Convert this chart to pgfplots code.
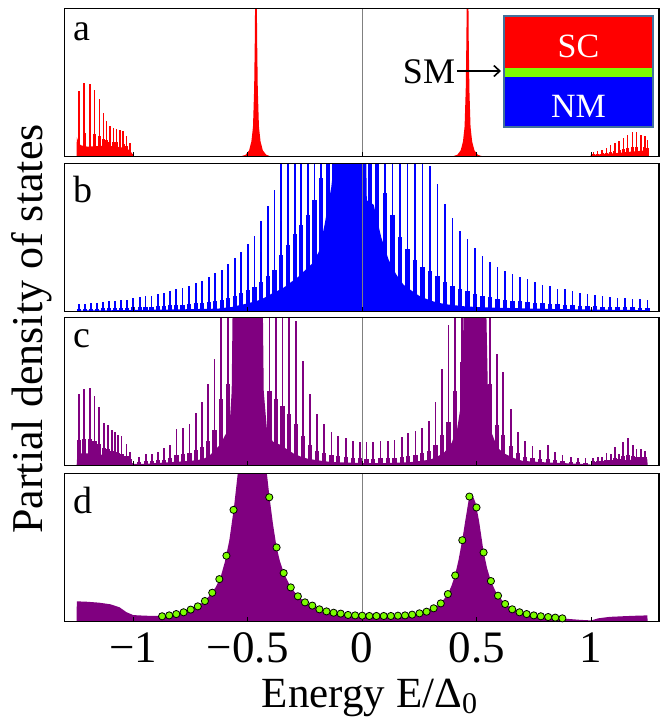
\documentclass[border=0pt]{standalone}
\usepackage{pgfplots}
\usepackage{pgfplotstable}
\pgfplotsset{compat=1.18}
\usepackage{fontspec}
\setmainfont{Liberation Serif}
\usetikzlibrary{arrows.meta}

\definecolor{dospurple}{RGB}{128,0,128}
\definecolor{smgreen}{RGB}{124,252,0}
\definecolor{boxedge}{RGB}{65,113,156}

% spikes: position, peak height, height of the broad foot
\pgfplotstableread{
x p s
-1.237 0.438 0.17
-1.214 0.494 0.16
-1.189 0.490 0.16
-1.169 0.449 0.15
-1.148 0.387 0.14
-1.129 0.292 0.12
-1.116 0.236 0.11
-1.102 0.202 0.10
-1.087 0.191 0.097
-1.072 0.184 0.094
-1.058 0.180 0.089
-1.044 0.169 0.082
-1.029 0.135 0.069
-1.014 0.090 0.043
1.009 0.027 0.014
1.028 0.034 0.017
1.048 0.045 0.022
1.067 0.056 0.025
1.085 0.074 0.030
1.103 0.090 0.035
1.122 0.101 0.040
1.140 0.124 0.048
1.159 0.146 0.055
1.181 0.162 0.061
1.198 0.164 0.063
1.217 0.146 0.061
1.234 0.135 0.060
1.245 0.112 0.056
}\spikesA

\pgfplotstableread{
x p s
-1.237 0.050 0.015
-1.211 0.052 0.016
-1.183 0.057 0.017
-1.157 0.059 0.018
-1.131 0.063 0.020
-1.105 0.068 0.021
-1.079 0.072 0.023
-1.052 0.075 0.024
-1.026 0.079 0.025
-1.000 0.088 0.026
-0.972 0.095 0.028
-0.946 0.102 0.030
-0.920 0.106 0.032
-0.892 0.115 0.034
-0.866 0.127 0.037
-0.840 0.138 0.040
-0.812 0.149 0.043
-0.785 0.158 0.045
-0.756 0.174 0.050
-0.726 0.188 0.053
-0.699 0.205 0.058
-0.670 0.235 0.065
-0.643 0.256 0.070
-0.614 0.278 0.078
-0.585 0.319 0.090
-0.556 0.357 0.105
-0.528 0.403 0.123
-0.499 0.452 0.142
-0.470 0.509 0.164
-0.441 0.611 0.198
-0.412 0.713 0.238
-0.383 0.821 0.280
-0.354 1.5 0.38
-0.324 1.5 0.45
-0.295 1.5 0.52
-0.266 1.5 0.58
-0.237 1.5 0.65
-0.208 1.5 0.75
-0.179 1.5 0.90
-0.150 1.5 1.2
-0.121 1.5 1.5
0.034 1.5 1.5
0.066 1.5 1.0
0.099 1.5 0.80
0.132 1.5 0.65
0.165 1.5 0.50
0.198 1.5 0.42
0.231 1.5 0.35
0.263 1.5 0.30
0.296 0.982 0.275
0.329 0.860 0.236
0.362 0.726 0.199
0.394 0.633 0.172
0.427 0.541 0.148
0.460 0.491 0.134
0.492 0.430 0.118
0.525 0.373 0.104
0.558 0.333 0.094
0.591 0.301 0.086
0.623 0.271 0.078
0.656 0.249 0.072
0.689 0.233 0.068
0.722 0.219 0.064
0.755 0.197 0.057
0.787 0.181 0.053
0.820 0.172 0.050
0.853 0.154 0.046
0.886 0.149 0.044
0.918 0.136 0.041
0.951 0.124 0.037
0.984 0.120 0.036
1.017 0.113 0.034
1.049 0.104 0.031
1.082 0.100 0.031
1.115 0.093 0.029
1.148 0.088 0.027
1.180 0.084 0.026
1.213 0.081 0.025
1.246 0.075 0.023
}\spikesB

\pgfplotstableread{
x p s
-1.237 0.482 0.168
-1.214 0.514 0.175
-1.189 0.520 0.176
-1.169 0.468 0.163
-1.148 0.392 0.142
-1.129 0.284 0.115
-1.109 0.273 0.109
-1.094 0.239 0.097
-1.080 0.227 0.092
-1.065 0.205 0.084
-1.051 0.198 0.079
-1.029 0.144 0.061
-1.014 0.092 0.042
-0.975 0.059 0.021
-0.945 0.077 0.026
-0.918 0.077 0.027
-0.892 0.092 0.033
-0.866 0.115 0.039
-0.840 0.137 0.047
-0.811 0.243 0.072
-0.783 0.250 0.076
-0.754 0.277 0.084
-0.726 0.356 0.106
-0.699 0.430 0.126
-0.672 0.550 0.166
-0.645 0.718 0.236
-0.616 1.5 0.45
-0.586 1.5 0.55
-0.557 1.5 1.5
-0.405 1.5 0.50
-0.376 1.5 0.45
-0.348 1.5 0.40
-0.320 1.5 0.35
-0.290 0.975 0.28
-0.260 0.707 0.20
-0.228 0.480 0.14
-0.196 0.349 0.10
-0.167 0.277 0.084
-0.134 0.227 0.069
-0.105 0.200 0.060
-0.071 0.182 0.055
-0.042 0.164 0.049
-0.010 0.160 0.047
0.019 0.155 0.046
0.048 0.155 0.046
0.080 0.164 0.048
0.111 0.164 0.048
0.141 0.171 0.051
0.172 0.194 0.057
0.201 0.216 0.063
0.233 0.234 0.071
0.262 0.255 0.080
0.291 0.300 0.096
0.320 0.430 0.138
0.349 0.651 0.206
0.377 0.948 0.29
0.406 1.5 0.50
0.434 1.5 0.70
0.558 1.5 0.55
0.587 0.752 0.27
0.616 0.630 0.205
0.649 0.381 0.13
0.679 0.227 0.085
0.711 0.164 0.059
0.744 0.131 0.049
0.777 0.104 0.041
0.811 0.137 0.045
0.842 0.088 0.033
0.875 0.070 0.027
0.910 0.059 0.023
0.943 0.052 0.020
0.975 0.047 0.017
1.009 0.047 0.026
1.028 0.059 0.030
1.048 0.055 0.031
1.067 0.081 0.038
1.085 0.075 0.038
1.103 0.122 0.050
1.122 0.075 0.041
1.140 0.160 0.062
1.159 0.187 0.069
1.181 0.137 0.060
1.198 0.108 0.054
1.217 0.113 0.056
1.234 0.100 0.053
}\spikesC

\pgfplotsset{
  panel/.style={
    scale only axis, width=594.7pt, height=148pt,
    xmin=-1.301, xmax=1.296, ymin=0, ymax=1,
    ytick=\empty, xtick={-1,-0.5,0,0.5,1}, xticklabels={},
    tick pos=left, tick align=inside, major tick length=4pt,
    tick style={black, line width=0.8pt},
    axis line style={black, line width=1.5pt},
    axis on top, anchor=north west,
  },
  tip/.style={ycomb, line width=1.8pt},
  foot/.style={ycomb, line width=4.2pt},
  zeroline/.style={gray, line width=0.9pt},
}

\begin{document}
\begin{tikzpicture}[x=1pt,y=1pt]
\useasboundingbox (0,0) rectangle (667,-721);

% ---- a
\begin{axis}[panel, at={(64.3pt,-8.3pt)}]
\addplot[fill=red, draw=none] table {
x y
-1.247 0
-1.2465 0.13
-1.240 0.10
-1.230 0.075
-1.200 0.065
-1.150 0.070
-1.100 0.070
-1.050 0.060
-1.020 0.045
-1.005 0.020
-0.995 0
-0.530 0
-0.509 0.01
-0.494 0.04
-0.484 0.10
-0.477 0.20
-0.472 0.45
-0.469 0.80
-0.466 1.40
-0.462 1.40
-0.459 0.80
-0.456 0.45
-0.451 0.20
-0.444 0.10
-0.434 0.04
-0.419 0.01
-0.400 0
0.395 0
0.415 0.01
0.430 0.04
0.440 0.10
0.447 0.20
0.452 0.45
0.455 0.80
0.458 1.40
0.462 1.40
0.465 0.80
0.468 0.45
0.473 0.20
0.480 0.10
0.490 0.04
0.505 0.01
0.525 0
0.995 0
1.000 0.010
1.050 0.015
1.100 0.020
1.150 0.028
1.200 0.035
1.2455 0.040
1.246 0
};
\addplot[ycomb, line width=2.8pt, red] table[y=s] {\spikesA};
\addplot[ycomb, line width=1.5pt, red] table[y=p] {\spikesA};
\addplot[zeroline] coordinates {(0,0) (0,1)};
\end{axis}

% ---- b
\begin{axis}[panel, at={(64.3pt,-163.3pt)}]
\addplot[fill=blue, draw=none] table {
x y
-1.247 0
-1.244 0.005
-1.100 0.007
-1.000 0.009
-0.900 0.011
-0.800 0.013
-0.700 0.016
-0.630 0.018
-0.600 0.024
-0.570 0.029
-0.540 0.040
-0.510 0.050
-0.485 0.060
-0.455 0.073
-0.425 0.093
-0.400 0.115
-0.370 0.138
-0.340 0.163
-0.310 0.198
-0.280 0.232
-0.250 0.277
-0.220 0.320
-0.190 0.400
-0.165 0.580
-0.135 0.840
-0.110 1.2
0.016 1.2
0.020 0.75
0.050 0.72
0.083 0.50
0.115 0.35
0.148 0.25
0.180 0.18
0.215 0.14
0.247 0.106
0.280 0.084
0.312 0.066
0.345 0.054
0.378 0.045
0.410 0.040
0.445 0.034
0.500 0.029
0.600 0.024
0.700 0.020
0.850 0.015
1.000 0.012
1.2455 0.008
1.246 0
};
\addplot[foot, blue] table[y=s] {\spikesB};
\addplot[tip, blue] table[y=p] {\spikesB};
\addplot[zeroline] coordinates {(0,0) (0,1)};
\end{axis}

% ---- c
\begin{axis}[panel, at={(64.3pt,-317.3pt)}]
\addplot[fill=dospurple, draw=none] table {
x y
-1.247 0
-1.244 0.08
-1.200 0.080
-1.150 0.075
-1.100 0.060
-1.050 0.045
-1.020 0.035
-1.000 0.010
-0.950 0.010
-0.900 0.015
-0.850 0.020
-0.800 0.025
-0.750 0.030
-0.700 0.040
-0.670 0.060
-0.645 0.100
-0.620 0.140
-0.600 0.200
-0.580 0.250
-0.570 0.500
-0.565 1.2
-0.435 1.2
-0.430 0.500
-0.415 0.220
-0.390 0.160
-0.360 0.140
-0.330 0.110
-0.300 0.080
-0.270 0.060
-0.240 0.045
-0.200 0.035
-0.150 0.025
-0.100 0.020
0.000 0.015
0.100 0.015
0.200 0.020
0.260 0.030
0.300 0.040
0.330 0.060
0.360 0.090
0.390 0.150
0.415 0.250
0.435 0.450
0.445 1.2
0.540 1.2
0.550 0.400
0.565 0.220
0.590 0.120
0.620 0.080
0.660 0.050
0.700 0.030
0.800 0.020
0.950 0.010
1.000 0.005
1.010 0.020
1.100 0.030
1.200 0.040
1.2455 0.040
1.246 0
};
\addplot[foot, dospurple] table[y=s] {\spikesC};
\addplot[tip, dospurple] table[y=p] {\spikesC};
\addplot[zeroline] coordinates {(0,0) (0,1)};
\end{axis}

% ---- d
\begin{axis}[panel, at={(64.3pt,-473.3pt)},
  xticklabels={−1,−0.5,0,0.5,1},
  xticklabel style={font=\fontsize{45}{48}\selectfont, inner sep=0pt, yshift=-11pt}]
\addplot[fill=dospurple, draw=none] table {
x y
-1.247 0
-1.2465 0.135
-1.200 0.132
-1.150 0.126
-1.100 0.115
-1.060 0.095
-1.030 0.062
-1.000 0.042
-0.950 0.038
-0.900 0.036
-0.870 0.036
-0.840 0.041
-0.810 0.049
-0.780 0.061
-0.750 0.079
-0.720 0.101
-0.690 0.133
-0.660 0.185
-0.640 0.230
-0.620 0.290
-0.600 0.400
-0.580 0.550
-0.560 0.770
-0.540 1.05
-0.520 1.40
-0.500 1.65
-0.480 1.73
-0.460 1.65
-0.440 1.40
-0.420 1.05
-0.405 0.840
-0.390 0.660
-0.374 0.500
-0.360 0.410
-0.343 0.330
-0.325 0.270
-0.312 0.230
-0.281 0.170
-0.250 0.130
-0.218 0.106
-0.187 0.082
-0.156 0.068
-0.125 0.058
-0.094 0.051
-0.062 0.044
-0.031 0.040
0.000 0.038
0.031 0.036
0.062 0.036
0.094 0.036
0.125 0.037
0.156 0.039
0.187 0.043
0.218 0.047
0.250 0.056
0.281 0.066
0.312 0.088
0.343 0.120
0.374 0.184
0.390 0.240
0.405 0.310
0.420 0.410
0.437 0.550
0.450 0.680
0.465 0.820
0.480 0.860
0.495 0.800
0.510 0.680
0.530 0.470
0.545 0.360
0.562 0.272
0.580 0.210
0.593 0.173
0.625 0.117
0.656 0.081
0.687 0.061
0.718 0.049
0.750 0.040
0.780 0.034
0.810 0.029
0.840 0.025
0.870 0.020
0.900 0.016
0.950 0.010
1.000 0.006
1.030 0.020
1.080 0.030
1.150 0.035
1.200 0.038
1.2455 0.040
1.246 0
};
\addplot[zeroline] coordinates {(0,0) (0,1)};
\addplot[only marks, mark=*, mark size=3.6pt,
  mark options={fill=smgreen, draw=black, line width=0.8pt}] table {
x y
-0.874 0.034
-0.843 0.040
-0.812 0.049
-0.780 0.061
-0.749 0.079
-0.718 0.101
-0.687 0.137
-0.655 0.193
-0.624 0.285
-0.593 0.443
-0.562 0.753
-0.406 0.838
-0.374 0.499
-0.343 0.326
-0.312 0.229
-0.281 0.169
-0.250 0.128
-0.218 0.106
-0.187 0.081
-0.156 0.067
-0.125 0.058
-0.094 0.052
-0.062 0.043
-0.031 0.040
0.000 0.038
0.031 0.036
0.062 0.036
0.094 0.036
0.125 0.036
0.156 0.038
0.187 0.040
0.218 0.045
0.250 0.054
0.281 0.065
0.312 0.088
0.343 0.121
0.374 0.184
0.406 0.310
0.437 0.548
0.468 0.843
0.499 0.769
0.530 0.465
0.562 0.272
0.593 0.173
0.624 0.117
0.655 0.081
0.687 0.061
0.718 0.049
0.749 0.040
0.780 0.034
0.812 0.029
0.843 0.025
0.874 0.020
};
\end{axis}

% panel letters
\node[anchor=base west, font=\fontsize{38}{40}\selectfont, inner sep=0] at (73,-40) {a};
\node[anchor=base west, font=\fontsize{38}{40}\selectfont, inner sep=0] at (73,-202.7) {b};
\node[anchor=base west, font=\fontsize{38}{40}\selectfont, inner sep=0] at (73,-347.3) {c};
\node[anchor=base west, font=\fontsize{38}{40}\selectfont, inner sep=0] at (73,-513.3) {d};

% inset sketch of the layers
\fill[red] (504,-16) rectangle (653,-68);
\fill[smgreen] (504,-68) rectangle (653,-77);
\fill[blue] (504,-77) rectangle (653,-127);
\draw[boxedge, line width=2pt] (504,-16) rectangle (653,-127);
\node[anchor=base, white, font=\fontsize{34}{36}\selectfont, inner sep=0] at (578.5,-57) {SC};
\node[anchor=base, white, font=\fontsize{34}{36}\selectfont, inner sep=0] at (578.5,-117) {NM};
\node[anchor=base, font=\fontsize{36}{38}\selectfont, inner sep=0] at (429,-83) {SM};
\draw[-{Straight Barb[length=6pt,width=11pt]}, line width=1.6pt] (457,-71) -- (501,-71);

% axis titles
\node[anchor=base, rotate=90, font=\fontsize{44}{48}\selectfont, inner sep=0] at (42.5,-329) {Partial density of states};
\node[anchor=base, font=\fontsize{43}{46}\selectfont, inner sep=0] at (369.5,-707) {Energy E/Δ\raisebox{-0.16em}{\fontsize{30}{30}\selectfont 0}};
\end{tikzpicture}
\end{document}
